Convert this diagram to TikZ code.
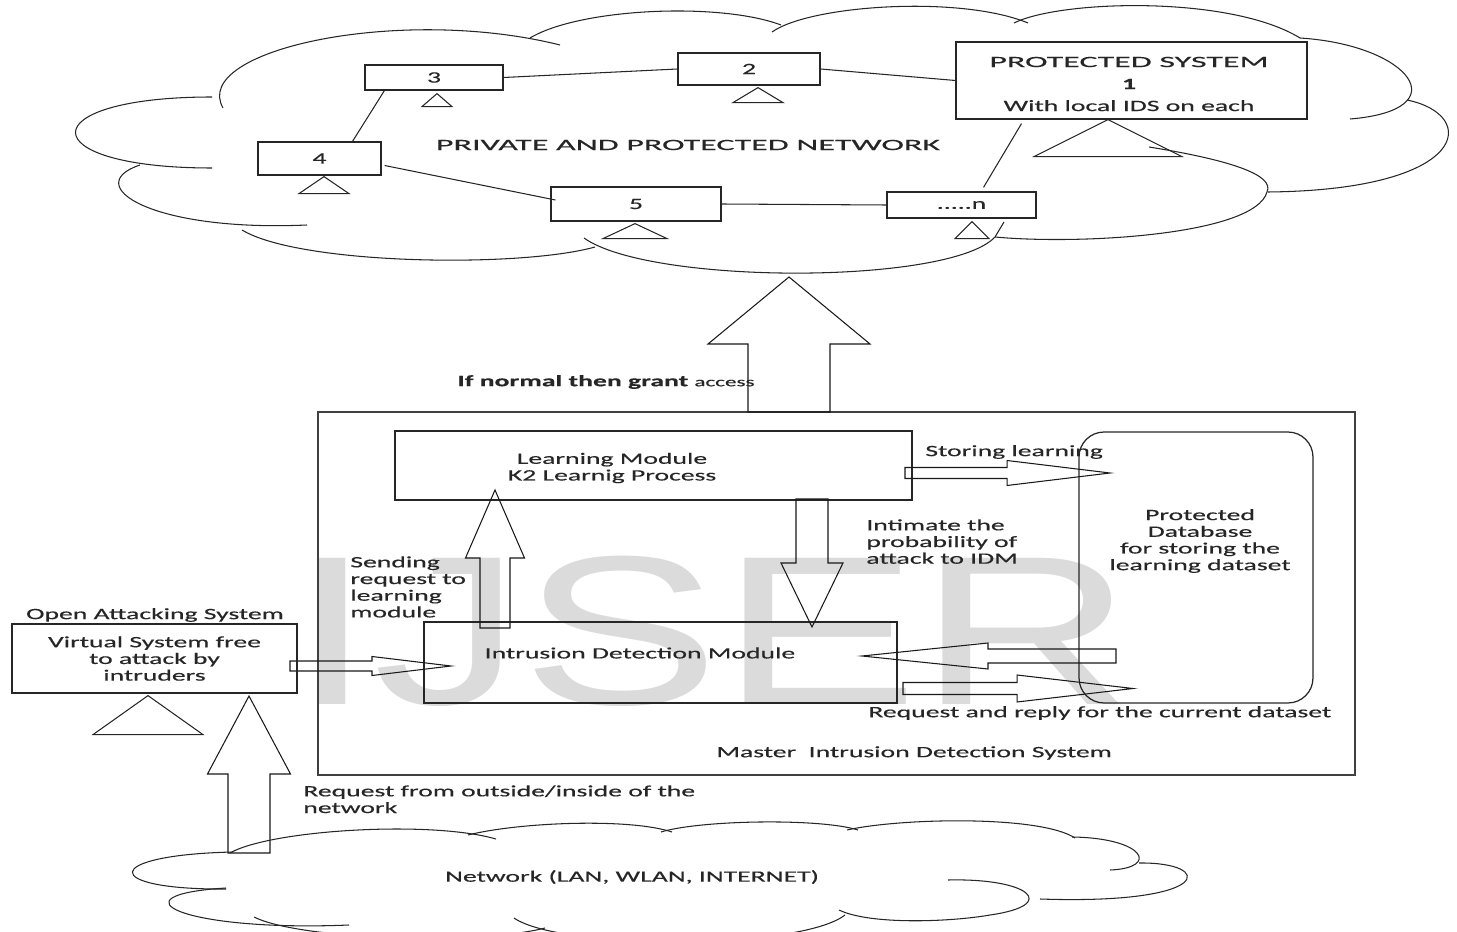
\documentclass[tikz,border=0pt]{standalone}
\usepackage{fontspec}
\setmainfont{Carlito}[FakeStretch=1.75, FakeBold=0.4]
\newfontfamily\capsfont{Carlito}[FakeStretch=2.15, FakeBold=0.4]
\newfontfamily\markfont{Liberation Sans}[FakeStretch=1.4]
\usetikzlibrary{calc}

% hollow block arrow: from, to, body half width, head half width, head length
\newcommand{\fatarrow}[5]{%
  \coordinate (hb) at ($(#2)!#5!(#1)$);
  \draw[fat] ($(#1)!#3!90:(#2)$) -- ($(hb)!#3!90:(#2)$) -- ($(hb)!#4!90:(#2)$)
    -- (#2) -- ($(hb)!#4!-90:(#2)$) -- ($(hb)!#3!-90:(#2)$) -- ($(#1)!#3!-90:(#2)$) -- cycle;}
% local IDS triangle: apex, half base, height
\newcommand{\idstri}[3]{\draw[link] (#1) -- ++(-#2,#3) -- ++(2*#2,0) -- cycle;}

\begin{document}
\begin{tikzpicture}[x=0.02cm, y=-0.02cm,
    box/.style={draw=black!85, line width=0.7pt, inner sep=0pt, text=black!85,
      font=\fontsize{9}{9.5}\selectfont},
    link/.style={draw=black!85, line width=0.6pt},
    fat/.style={draw=black!90, line width=0.6pt},
    txt/.style={text=black!85, font=\fontsize{9}{9.5}\selectfont, inner sep=0pt, align=left},
    capstxt/.style={txt, font=\capsfont\fontsize{9}{9.5}\selectfont}]
    \useasboundingbox (0,0) rectangle (1457,932);

    % watermark
    \node[text=black!14, font=\markfont\fontsize{121}{121}\selectfont, inner sep=0pt] (mark) at (712,631) {IJSER};

    % private network cloud
    \draw[link] (223,108) .. controls (190,50) and (400,5) .. (560,45);
    \draw[link] (530,38) .. controls (580,8) and (720,2) .. (781,25);
    \draw[link] (772,32) .. controls (810,5) and (960,-5) .. (1028,23);
    \draw[link] (1014,23) .. controls (1060,0) and (1230,-5) .. (1300,38);
    \draw[link] (1300,38) .. controls (1410,45) and (1460,110) .. (1350,119);
    \draw[link] (1407,100) .. controls (1480,115) and (1470,190) .. (1268,192);
    \draw[link] (1149,147) .. controls (1230,160) and (1275,175) .. (1267,192)
      .. controls (1255,235) and (1080,245) .. (995,237);
    \draw[link] (1004,222) .. controls (1000,230) .. (995,237)
      .. controls (950,285) and (650,285) .. (584,238);
    \draw[link] (595,247) .. controls (520,268) and (300,265) .. (242,230);
    \draw[link] (307,225) .. controls (150,232) and (80,185) .. (140,165);
    \draw[link] (212,168) .. controls (30,168) and (30,97) .. (212,97);
    \node[capstxt] (privlbl) at (688,145) {PRIVATE AND PROTECTED NETWORK};

    % systems
    \node[box, minimum width=2.76cm, minimum height=0.5cm] (b3) at (434,77.5) {3};
    \node[box, minimum width=2.84cm, minimum height=0.64cm] (b2) at (749,69) {2};
    \node[box, minimum width=7.02cm, minimum height=1.54cm] (ps) at (1131.5,80.5) {};
    \node[txt, align=center] (pslbl) at (1129,84)
      {{\capsfont PROTECTED SYSTEM}\\[3pt]\textbf{1}\\[3pt]With local IDS on each};
    \node[box, minimum width=2.46cm, minimum height=0.66cm] (b4) at (319.5,158.5) {4};
    \node[box, minimum width=3.4cm, minimum height=0.68cm] (b5) at (636,204) {5};
    \node[box, minimum width=2.98cm, minimum height=0.52cm] (bn) at (961.5,205) {.....n};

    \draw[link] (b3.east) -- (b2.west);
    \draw[link] (b2.east) -- (ps.west);
    \draw[link] ($(b3.south west)+(20,0)$) -- ($(b4.north)+(33,0)$);
    \draw[link] ($(b4.east)+(3,7)$) -- ($(b5.west)+(5,-4)$);
    \draw[link] (b5.east) -- (bn.west);
    \draw[link] ($(bn.north)+(22,-4)$) -- ($(ps.south)+(-110,4)$);

    \idstri{$(b3.south)+(3,3)$}{15}{13}
    \idstri{$(b2.south)+(9,2)$}{25}{15}
    \idstri{$(ps.south)+(-23.5,0)$}{74}{37}
    \idstri{$(b4.south)+(4.5,1)$}{25}{17}
    \idstri{$(b5.south)+(-1,2)$}{32}{15}
    \idstri{$(bn.south)+(10.5,3)$}{17}{17}

    % master IDS
    \node[box, draw=black!75, minimum width=20.74cm, minimum height=7.26cm] (mids) at (836.5,593.5) {};
    \node[txt, anchor=west] (midslbl) at (716,753) {Master\ \ Intrusion Detection System};
    \node[box, minimum width=10.34cm, minimum height=1.38cm] (lm) at (653.5,465.5) {};
    \node[txt, align=center] (lmlbl) at (612,468) {Learning Module\\K2 Learnig Process};
    \node[box, minimum width=9.46cm, minimum height=1.62cm] (idm) at (660.5,662.5) {};
    \node[txt] (idmlbl) at (640,653) {Intrusion Detection Module};
    \node[box, rounded corners=0.5cm, minimum width=4.68cm, minimum height=5.42cm] (db) at (1196,567.5) {};
    \node[txt, align=center] (dblbl) at (1200,541) {Protected\\Database\\for storing the\\learning dataset};

    \coordinate (grantT) at (789,412);
    \coordinate (grantH) at (789,277);
    \coordinate (sendT) at (495,628);
    \coordinate (sendH) at (495,490);
    \coordinate (intT) at (812,499);
    \coordinate (intH) at (812,627);
    \coordinate (storeT) at (905,473);
    \coordinate (storeH) at (1110,473);
    \coordinate (replyT) at (1116,656);
    \coordinate (replyH) at (862,656);
    \coordinate (askT) at (903,688.5);
    \coordinate (askH) at (1133,688.5);
    \coordinate (atkT) at (290,666);
    \coordinate (atkH) at (451,666);
    \coordinate (netT) at (249,853);
    \coordinate (netH) at (249,696);

    \fatarrow{grantT}{grantH}{0.82cm}{1.62cm}{1.34cm}
    \fatarrow{sendT}{sendH}{0.3cm}{0.59cm}{1.36cm}
    \fatarrow{intT}{intH}{0.32cm}{0.62cm}{1.28cm}
    \fatarrow{storeT}{storeH}{0.11cm}{0.25cm}{2.06cm}
    \fatarrow{replyT}{replyH}{0.14cm}{0.26cm}{2.52cm}
    \fatarrow{askT}{askH}{0.12cm}{0.27cm}{2.32cm}
    \fatarrow{atkT}{atkH}{0.1cm}{0.19cm}{1.58cm}
    \fatarrow{netT}{netH}{0.42cm}{0.83cm}{1.56cm}

    \node[txt, anchor=west] (grantlbl) at (457,382)
      {\bfseries If normal then grant \mdseries\fontsize{7.5}{8}\selectfont access};
    \node[txt, anchor=north west] (sendlbl) at (350,556) {Sending\\request to\\learning\\module};
    \node[txt, anchor=north west] (intlbl) at (866,519) {Intimate the\\probability of\\attack to IDM};
    \node[txt, anchor=west] (storelbl) at (925,452) {Storing learning};
    \node[txt, anchor=west] (reqlbl) at (868,713) {Request and reply for the current dataset};

    % open attacking system
    \node[box, minimum width=5.7cm, minimum height=1.38cm, align=center] (open) at (154.5,658.5)
      {Virtual System free\\to attack by\\intruders};
    \node[txt] (openlbl) at (155,615) {Open Attacking System};
    \idstri{$(open.south)+(-6.5,2)$}{55}{39}
    \node[txt, anchor=north west] (netlbl) at (303,785) {Request from outside/inside of the\\network};

    % outside network cloud
    \draw[link] (230,853) .. controls (270,830) and (430,820) .. (496,839);
    \draw[link] (468,835) .. controls (520,822) and (630,818) .. (672,832);
    \draw[link] (661,832) .. controls (700,820) and (820,818) .. (858,830);
    \draw[link] (847,830) .. controls (900,818) and (1040,815) .. (1075,838);
    \draw[link] (1072,837) .. controls (1145,838) and (1160,868) .. (1110,870);
    \draw[link] (1139,863) .. controls (1215,862) and (1215,905) .. (1040,899);
    \draw[link] (948,880) .. controls (1030,878) and (1060,905) .. (990,915)
      .. controls (950,922) and (870,925) .. (839,910);
    \draw[link] (845,915) .. controls (800,950) and (560,950) .. (514,918);
    \draw[link] (545,928) .. controls (480,945) and (300,940) .. (254,917);
    \draw[link] (349,925) .. controls (180,932) and (110,895) .. (226,888);
    \draw[link] (226,889) .. controls (100,890) and (100,855) .. (233,852);
    \node[txt] (netname) at (632,877) {Network (LAN, WLAN, INTERNET)};
\end{tikzpicture}
\end{document}
